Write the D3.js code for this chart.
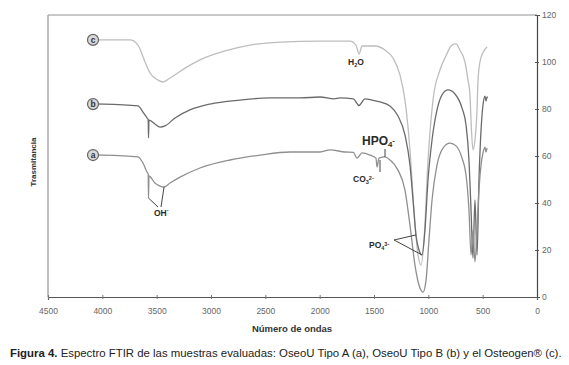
<!DOCTYPE html>
<html><head><meta charset="utf-8">
<script src="https://cdn.jsdelivr.net/npm/d3@7"></script>
<style>body{margin:0;background:#fff;}svg{display:block;font-family:"Liberation Sans",Arial,sans-serif;}</style>
</head><body>
<svg id="c" width="569" height="365"></svg>
<script>
const xTicks = [4500,4000,3500,3000,2500,2000,1500,1000,500,0];
const yTicks = [0,20,40,60,80,100,120];

// Osteogen (c)
const waveC = [3994,3745,3672,3607,3561,3488,3442,3377,3239,3101,2871,2641,2365,1997,1721,1666,1638,1610,1491,1399,1325,1261,1215,1169,1132,1095,1067,1040,1003,957,893,847,782,745,709,663,635,617,607,589,571,552,543,525,497,460];
const valC  = [109.4,109.4,107.2,100,95.3,92.3,91.5,93.2,97.4,100.9,104.7,107.2,108.5,108.9,108.9,107.2,103.4,106.8,106.8,105.1,101.7,94.5,83.8,62.6,37,17.9,13.6,24,58,83.8,96.6,101.7,107.2,107.7,105,100,92.3,86,75,62.6,66.8,79.6,92,100,104,106.4];

// OseoU Tipo B (b)
const waveB = [3994,3672,3626,3589,3578,3575,3571,3516,3469,3423,3331,3193,3009,2733,2457,2181,1997,1868,1813,1690,1638,1583,1518,1445,1353,1279,1215,1169,1141,1114,1086,1058,1031,1003,966,920,874,819,755,690,653,626,607,589,571,552,534,515,497,479,469,460,455];
const valB  = [82.1,81.3,78.7,76.2,75.5,67.7,75.3,73.6,72.3,72.8,76.2,79.6,82.1,83.8,84.7,84.7,85.1,84.3,84.7,84.3,81.5,84.3,83.8,83,81.3,77,69,56.2,41.3,26.4,20,17.9,28.5,49.8,66.8,79.6,86,88.1,86.4,80.4,73.2,58.3,37,16.6,41.3,17.9,49.8,71,81.7,85.5,83.4,85.1,84.7];

// OseoU Tipo A (a)
const waveA = [3994,3672,3626,3589,3578,3575,3571,3516,3469,3432,3377,3285,3101,2825,2549,2273,1997,1905,1767,1690,1657,1610,1537,1482,1472,1454,1399,1353,1279,1215,1169,1123,1086,1049,1021,994,966,920,865,801,745,690,653,626,607,589,571,552,534,515,497,479,469,460];
const valA  = [60.4,59.6,57,53.2,52.3,42.1,51.5,48.5,47.2,46.8,48.5,51,54.9,58.3,60.4,61.7,61.7,62.6,61.7,61.5,59.1,61.3,60.4,59.1,55.3,59.1,59.6,58.3,54,45.5,30.6,13.6,5.1,2.1,7.2,24.3,41.3,56.2,63.4,65.5,64.3,59.1,51.9,37,17.9,28.5,14.9,28.5,45.5,56.2,61.3,63.8,61.7,63.4];

const series = [
  {id:"c", wave:waveC, val:valC, color:"#bdbdbd"},
  {id:"b", wave:waveB, val:valB, color:"#6b6b6b"},
  {id:"a", wave:waveA, val:valA, color:"#8f8f8f"}
];

const svg = d3.select("#c");
const L=48, R=537, T=15, B=297;
const x = d3.scaleLinear().domain([4500,0]).range([L,R]);
const y = d3.scaleLinear().domain([0,120]).range([B,T]);

// frame (top and left, light gray)
svg.append("line").attr("x1",L).attr("x2",R).attr("y1",T).attr("y2",T).attr("stroke","#c8c8c8").attr("stroke-width",2);
svg.append("line").attr("x1",L).attr("x2",L).attr("y1",T).attr("y2",B).attr("stroke","#a8a8a8").attr("stroke-width",1.5);

// bottom axis
const xAxis = svg.append("g").attr("transform",`translate(0,${B})`)
  .call(d3.axisBottom(x).tickValues(xTicks).tickSize(3).tickFormat(d3.format("d")));
xAxis.select(".domain").attr("stroke","#555").attr("stroke-width",1.2);
xAxis.selectAll(".tick line").attr("stroke","#777").attr("y1",-2).attr("y2",2);
xAxis.selectAll("text").attr("fill","#666").attr("font-size",8.5).attr("dy","1.3em");

// right axis
const yAxis = svg.append("g").attr("transform",`translate(${R},0)`)
  .call(d3.axisRight(y).tickValues(yTicks).tickSize(3));
yAxis.select(".domain").attr("stroke","#444").attr("stroke-width",1.2);
yAxis.selectAll(".tick line").attr("stroke","#555").attr("x1",-2).attr("x2",2);
yAxis.selectAll("text").attr("fill","#666").attr("font-size",8.5).attr("x",5);

// curves
const line = d3.line().x(d=>x(d[0])).y(d=>y(d[1])).curve(d3.curveMonotoneX);
series.forEach(s=>{
  const pts = s.wave.map((w,i)=>[w,s.val[i]]);
  svg.append("path").attr("d",line(pts)).attr("fill","none").attr("stroke",s.color).attr("stroke-width",1.3);
  const cy = y(s.val[0]);
  svg.append("line").attr("x1",x(s.wave[0])-6).attr("x2",x(s.wave[0])).attr("y1",cy).attr("y2",cy).attr("stroke",s.color).attr("stroke-width",1.3);
  svg.append("circle").attr("cx",93).attr("cy",cy).attr("r",5.5).attr("fill","#d8d8d8").attr("stroke","#666").attr("stroke-width",1.2);
  svg.append("text").attr("x",93).attr("y",cy+3).attr("text-anchor","middle").attr("font-size",8.5).attr("font-weight","bold").attr("fill","#333").text(s.id);
});

// annotations
const ann = svg.append("g").attr("fill","#2a2a2a").attr("font-weight","bold");
function chem(xp, yp, size, parts){
  const t = ann.append("text").attr("x",xp).attr("y",yp).attr("font-size",size);
  parts.forEach(p=>{
    const ts = t.append("tspan").text(p[0]);
    if(p[1]==="sub"){ts.attr("font-size",size*0.65).attr("dy",2);}
    else if(p[1]==="sup"){ts.attr("font-size",size*0.65).attr("dy",-4);}
    else if(p[1]==="base"){ts.attr("dy",p[2]||0);}
  });
}
chem(348,65,8.5,[["H"],["2","sub"],["O","base",-2]]);
chem(362,145,12,[["HPO"],["4","sub"],["-","sup"]]);
chem(353,182,8.5,[["CO"],["3","sub"],["2-","sup"]]);
chem(369,248,8.5,[["PO"],["4","sub"],["3-","sup"]]);
chem(154,216,8.5,[["OH"],["-","sup"]]);

const pl = svg.append("g").attr("stroke","#444").attr("stroke-width",1).attr("fill","none");
pl.append("line").attr("x1",385).attr("x2",385).attr("y1",149).attr("y2",157);
pl.append("line").attr("x1",380).attr("x2",380).attr("y1",160).attr("y2",172);
pl.append("line").attr("x1",394).attr("x2",x(1114)).attr("y1",240).attr("y2",y(26.4));
pl.append("line").attr("x1",394).attr("x2",x(1058)).attr("y1",240).attr("y2",y(17.9));
pl.append("line").attr("x1",158).attr("x2",x(3575)).attr("y1",207).attr("y2",y(42.1));
pl.append("line").attr("x1",161).attr("x2",x(3432)).attr("y1",207).attr("y2",y(46.8));

// axis titles
svg.append("text").attr("transform","translate(36,162) rotate(-90)").attr("text-anchor","middle")
  .attr("font-size",8).attr("font-weight","bold").attr("fill","#333").text("Trasmitancia");
svg.append("text").attr("x",292).attr("y",332).attr("text-anchor","middle")
  .attr("font-size",9.5).attr("font-weight","bold").attr("fill","#333").text("Número de ondas");

// caption
const cap = svg.append("text").attr("x",10).attr("y",357).attr("font-size",11.4).attr("fill","#222");
cap.append("tspan").attr("font-weight","bold").text("Figura 4.");
cap.append("tspan").text("  Espectro FTIR de las muestras evaluadas: OseoU Tipo A (a), OseoU Tipo B (b) y el Osteogen® (c).");
</script>
</body></html>
